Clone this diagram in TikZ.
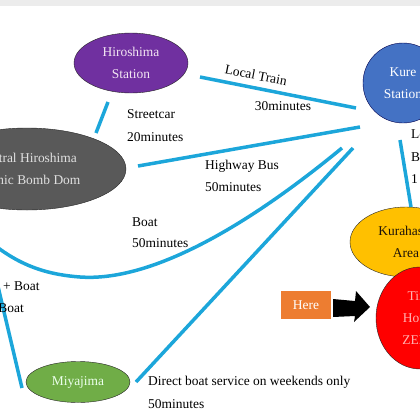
\documentclass[tikz,border=0pt]{standalone}
\usepackage{fontspec}
\setmainfont{Liberation Serif}
\usetikzlibrary{shapes.geometric}

\definecolor{routeblue}{HTML}{1CA6DA}
\definecolor{hspurple}{HTML}{7030A0}
\definecolor{domegray}{HTML}{595959}
\definecolor{kureblue}{HTML}{4472C4}
\definecolor{kuragold}{HTML}{FFC000}
\definecolor{miyagreen}{HTML}{70AD47}
\definecolor{hereorange}{HTML}{ED7D31}

\tikzset{
  spot/.style={ellipse,draw=black!85,thin,inner sep=0pt,align=center,
    font=\fontsize{13.5}{22}\selectfont},
  link/.style={draw=routeblue,line width=3.5bp},
  tag/.style={font=\fontsize{13.5}{16}\selectfont,inner sep=0pt},
}

\begin{document}
\begin{tikzpicture}[x=1bp,y=-1bp]
\useasboundingbox (0,0) rectangle (420,420);
\clip (0,0) rectangle (420,420);
\fill [gray!15] (0,0) rectangle (420,6);

\node [spot,fill=hspurple,text=violet!10,minimum width=114bp,minimum height=60bp] (hs) at (131,63) {Hiroshima\\Station};
\node [spot,fill=domegray,text=white!88!black,minimum width=198bp,minimum height=82bp] (dome) at (27,169) {Central Hiroshima\\Atomic Bomb Dom};
\node [spot,fill=kureblue,text=white,draw=blue!30!black,minimum width=80bp,minimum height=80bp] (kure) at (403,83) {Kure\\Station};
\node [spot,fill=kuragold,text=black!85!brown,minimum width=112bp,minimum height=70bp] (kura) at (406,242) {Kurahashi\\Area};
\node [spot,fill=red,text=red!30,minimum width=88bp,minimum height=102bp] (tiny) at (420,318) {Tiny\\House\\ZERO};
\node [spot,fill=miyagreen,text=white!92!green,minimum width=104bp,minimum height=41bp] (miya) at (78,382) {Miyajima};
\node [fill=hereorange,text=white,font=\fontsize{13.5}{16}\selectfont,minimum width=50bp,minimum height=28bp,inner sep=0pt] (here) at (306,305) {Here};

\coordinate (sc1) at (108,102);
\coordinate (sc2) at (96,133);
\coordinate (lt1) at (200,77);
\coordinate (lt2) at (356,108);
\coordinate (hb1) at (138,166);
\coordinate (hb2) at (360,127);
\coordinate (bt1) at (342,148);
\coordinate (bt2) at (-20,233);
\coordinate (db1) at (353,148);
\coordinate (db2) at (136,382);
\coordinate (mb1) at (-4,278);
\coordinate (mb2) at (22,388);
\coordinate (lb1) at (400,140);
\coordinate (lb2) at (411,207);

\draw [link] (sc1) -- (sc2);
\draw [link] (lt1) -- (lt2);
\draw [link] (hb1) -- (hb2);
\draw [link] (bt1) .. controls (245,228) and (150,282) .. (80,277) .. controls (40,274) and (12,262) .. (bt2);
\draw [link] (db1) -- (db2);
\draw [link] (mb1) -- (mb2);
\draw [link] (lb1) -- (lb2);

\fill [black] (333,299) -- (355,301) -- (356,291) -- (370,307) -- (354,322) -- (355,316) -- (333,317) -- cycle;

\node [tag,anchor=west] (scname) at (127,114) {Streetcar};
\node [tag,anchor=west] (sctime) at (127,137) {20minutes};
\node [tag,rotate=-11] (ltname) at (256,75) {Local Train};
\node [tag] (lttime) at (283,106) {30minutes};
\node [tag,anchor=west] (hbname) at (205,166) {Highway Bus};
\node [tag,anchor=west] (hbtime) at (205,187) {50minutes};
\node [tag,anchor=west] (btname) at (132,222) {Boat};
\node [tag,anchor=west] (bttime) at (132,243) {50minutes};
\node [tag,anchor=west] (mbname) at (3,286) {+ Boat};
\node [tag,anchor=east] (mbtime) at (24,308) {Boat};
\node [tag,anchor=west] (dbname) at (148,382) {Direct boat service on weekends only};
\node [tag,anchor=west] (dbtime) at (148,404) {50minutes};
\node [tag,anchor=west] (lbname) at (411,134) {Local};
\node [tag,anchor=west] (lbkind) at (411,157) {Bus};
\node [tag,anchor=west] (lbtime) at (411,179) {1 hour};
\end{tikzpicture}
\end{document}
